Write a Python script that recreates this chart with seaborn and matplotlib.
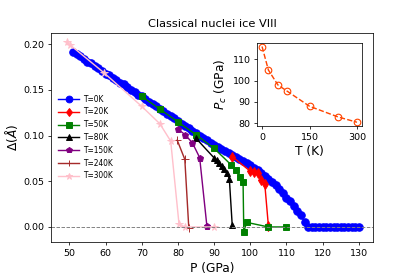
import matplotlib
matplotlib.use("Agg")
import matplotlib.pyplot as plt
import seaborn as sns

# order parameter Delta (Angstrom) vs pressure (GPa), one series per temperature
p_0k = list(range(51, 131))
d_0k = [0.192, 0.189, 0.187, 0.184, 0.181, 0.179, 0.176, 0.174, 0.171, 0.168,
        0.166, 0.163, 0.161, 0.158, 0.156, 0.153, 0.150, 0.148, 0.145, 0.143,
        0.140, 0.137, 0.135, 0.132, 0.129, 0.127, 0.124, 0.121, 0.119, 0.116,
        0.113, 0.111, 0.108, 0.105, 0.103, 0.100, 0.097, 0.095, 0.092, 0.090,
        0.088, 0.085, 0.083, 0.081, 0.079, 0.077, 0.074, 0.072, 0.070, 0.068,
        0.065, 0.062, 0.059, 0.056, 0.053, 0.049, 0.046, 0.042, 0.037, 0.032,
        0.028, 0.023, 0.018, 0.013, 0.005, 0.0, 0.0, 0.0, 0.0, 0.0,
        0.0, 0.0, 0.0, 0.0, 0.0, 0.0, 0.0, 0.0, 0.0, 0.0]

p_20k = [95, 100, 101, 102, 103, 104, 105]
d_20k = [0.077, 0.061, 0.060, 0.059, 0.051, 0.047, 0.001]

p_50k = [70, 75, 80, 85, 90, 94.7, 96, 97.2, 98, 98.2, 99, 105, 110]
d_50k = [0.143, 0.129, 0.115, 0.101, 0.086, 0.068, 0.062, 0.055, 0.049, -0.005, 0.005, 0.0, 0.0]

p_80k = [85, 89.9, 90.7, 91.4, 92.1, 92.8, 93.5, 94.2, 95]
d_80k = [0.097, 0.076, 0.073, 0.070, 0.067, 0.063, 0.059, 0.053, 0.002]

p_150k = [80, 82, 84, 86, 88]
d_150k = [0.107, 0.101, 0.092, 0.076, 0.001]

p_240k = [79.8, 81.9, 83]
d_240k = [0.095, 0.074, -0.001]

p_300k = [49.3, 50.3, 59.5, 70, 75, 78, 80.3, 82, 90]
d_300k = [0.202, 0.199, 0.169, 0.132, 0.113, 0.094, 0.003, 0.0, 0.0]

# inset: critical pressure vs temperature
t_inset = [0, 20, 50, 80, 150, 240, 300]
pc_inset = [116, 105, 98, 95, 88, 83, 80.5]

series = [
    ("T=0K", p_0k, d_0k, "blue", "o", 8),
    ("T=20K", p_20k, d_20k, "red", "d", 7),
    ("T=50K", p_50k, d_50k, "green", "s", 7),
    ("T=80K", p_80k, d_80k, "black", "^", 7),
    ("T=150K", p_150k, d_150k, "purple", "p", 7),
    ("T=240K", p_240k, d_240k, "brown", "+", 8),
    ("T=300K", p_300k, d_300k, "pink", "*", 8),
]

dpi = 68
fig = plt.figure(figsize=(415 / dpi, 277 / dpi), dpi=dpi)
ax = fig.add_axes([0.1236, 0.1253, 0.776, 0.7567])

for label, p, d, color, marker, size in series:
    sns.lineplot(x=p, y=d, ax=ax, color=color, marker=marker, label=label,
                 estimator=None, sort=False, markersize=size,
                 markeredgecolor=color, markeredgewidth=1)

ax.axhline(0, color="gray", ls="--", lw=1)
ax.set_xlim(45, 134)
ax.set_ylim(-0.0168, 0.2127)
ax.set_xticks(range(50, 131, 10))
ax.set_yticks([0.0, 0.05, 0.10, 0.15, 0.20])
ax.set_xlabel("P (GPa)", fontsize=13)
ax.set_ylabel(r"$\Delta (\AA)$", fontsize=13)
ax.set_title("Classical nuclei ice VIII", fontsize=12)
ax.legend(loc="center left", frameon=False, fontsize=8,
          handlelength=2.8, handletextpad=0.5, markerscale=0.9)

ins = fig.add_axes([0.620, 0.545, 0.2516, 0.3007])
sns.lineplot(x=t_inset, y=pc_inset, ax=ins, color="orangered", ls="--",
             marker="o", markersize=7, markerfacecolor="none",
             markeredgecolor="orangered", markeredgewidth=1.2,
             estimator=None, sort=False)
ins.set_xticks([0, 150, 300])
ins.set_yticks([80, 90, 100, 110])
ins.set_xlabel("T (K)", fontsize=13)
ins.set_ylabel(r"$P_c$ (GPa)", fontsize=13)

fig.savefig("out.png", dpi=dpi)
plt.close(fig)
